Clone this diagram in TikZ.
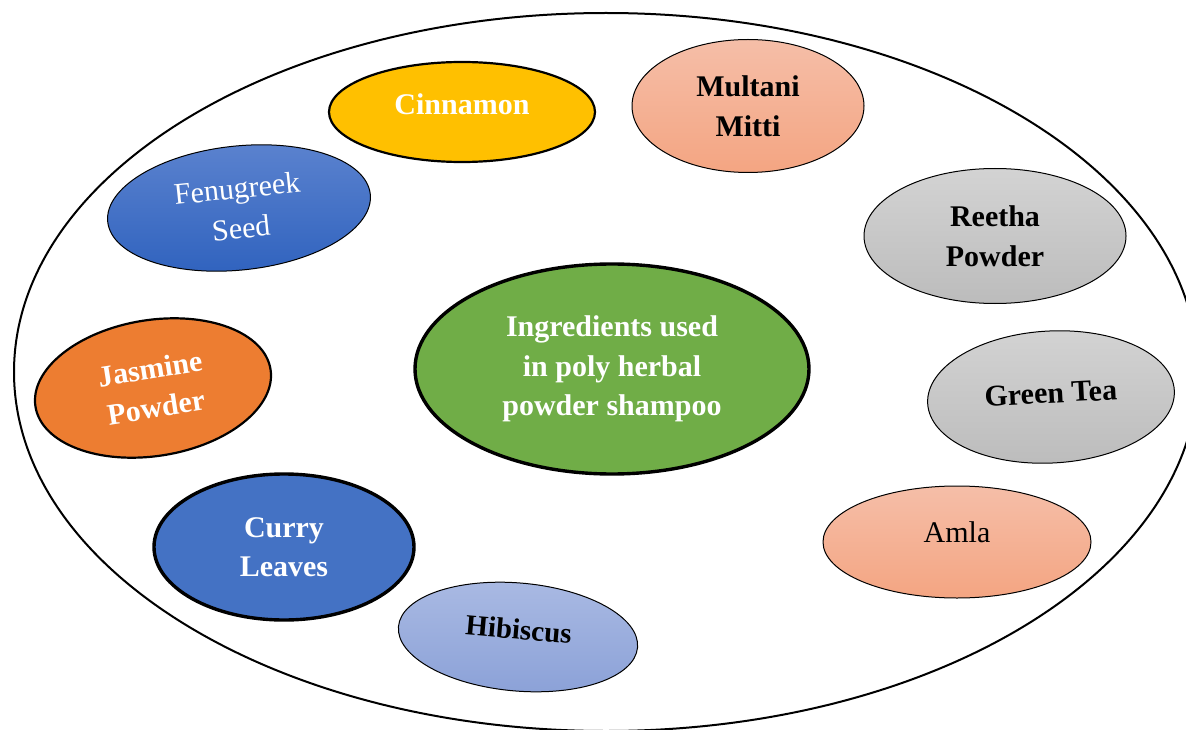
\documentclass[tikz,border=0pt]{standalone}
\usepackage{fontspec}
\setmainfont{Liberation Serif}
\usetikzlibrary{shapes.geometric}
\definecolor{cinn}{HTML}{FFC000}
\definecolor{fenT}{HTML}{5C83CF}
\definecolor{fenB}{HTML}{2F62BE}
\definecolor{salT}{HTML}{F5BEA8}
\definecolor{salB}{HTML}{F4A582}
\definecolor{grT}{HTML}{D3D3D3}
\definecolor{grB}{HTML}{BCBCBC}
\definecolor{hibT}{HTML}{AABAE3}
\definecolor{hibB}{HTML}{8CA2D8}
\definecolor{curry}{HTML}{4472C4}
\definecolor{jas}{HTML}{ED7D31}
\definecolor{cgreen}{HTML}{70AD47}
\tikzset{
  blob/.style={ellipse, draw=black, inner sep=0pt, align=center,
    font=\fontsize{30}{39}\selectfont},
  thinb/.style={line width=1pt},
  midb/.style={line width=2.2pt},
  thickb/.style={line width=3.4pt},
}
\begin{document}
\begin{tikzpicture}[x=1pt,y=-1pt]
\useasboundingbox (0,0) rectangle (1186,730);
\clip (0,0) rectangle (1186,730);
\fill[white] (0,0) rectangle (1186,730);
\node[ellipse, draw=black, line width=2pt, minimum width=1184pt, minimum height=718pt, inner sep=0pt] (outer) at (606,372) {};
\node[blob, thickb, fill=cgreen, text=white, font=\fontsize{30}{39.5}\selectfont\bfseries, minimum width=394pt, minimum height=210pt] (center) at (612,369) {Ingredients used\\in poly herbal\\powder shampoo};
\node[blob, midb, fill=cinn, text=white, font=\fontsize{30}{39}\selectfont\bfseries, minimum width=266pt, minimum height=100pt, text height=20pt, text depth=14pt] (cinnamon) at (462,112) {Cinnamon};
\node[blob, thinb, top color=fenT, bottom color=fenB, text=white, font=\fontsize{30}{40}\selectfont, minimum width=264pt, minimum height=124pt, rotate=6] (fenugreek) at (239,208) {Fenugreek\\Seed};
\node[blob, thinb, top color=salT, bottom color=salB, text=black, font=\fontsize{30}{40}\selectfont\bfseries, minimum width=232pt, minimum height=133pt] (multani) at (748,106) {Multani\\Mitti};
\node[blob, thinb, top color=grT, bottom color=grB, text=black, font=\fontsize{30}{40}\selectfont\bfseries, minimum width=262pt, minimum height=135pt] (reetha) at (995,236) {Reetha\\Powder};
\node[blob, thinb, top color=grT, bottom color=grB, text=black, font=\fontsize{30}{39}\selectfont\bfseries, minimum width=247pt, minimum height=132pt, rotate=3, text height=20pt, text depth=8pt] (greentea) at (1051,397) {Green Tea};
\node[blob, thinb, top color=salT, bottom color=salB, text=black, minimum width=268pt, minimum height=112pt, text height=20pt, text depth=20pt] (amla) at (957,542) {Amla};
\node[blob, thinb, top color=hibT, bottom color=hibB, text=black, font=\fontsize{29}{39}\selectfont\bfseries, minimum width=240pt, minimum height=108pt, rotate=-5, text height=20pt, text depth=16pt] (hibiscus) at (518,637) {Hibiscus};
\node[blob, thickb, fill=curry, text=white, font=\fontsize{30}{39}\selectfont\bfseries, minimum width=260pt, minimum height=146pt] (curry) at (284,547) {Curry\\Leaves};
\node[blob, midb, fill=jas, text=white, font=\fontsize{30}{39}\selectfont\bfseries, minimum width=238pt, minimum height=136pt, rotate=9] (jasmine) at (153,388) {Jasmine\\Powder};
\end{tikzpicture}
\end{document}
